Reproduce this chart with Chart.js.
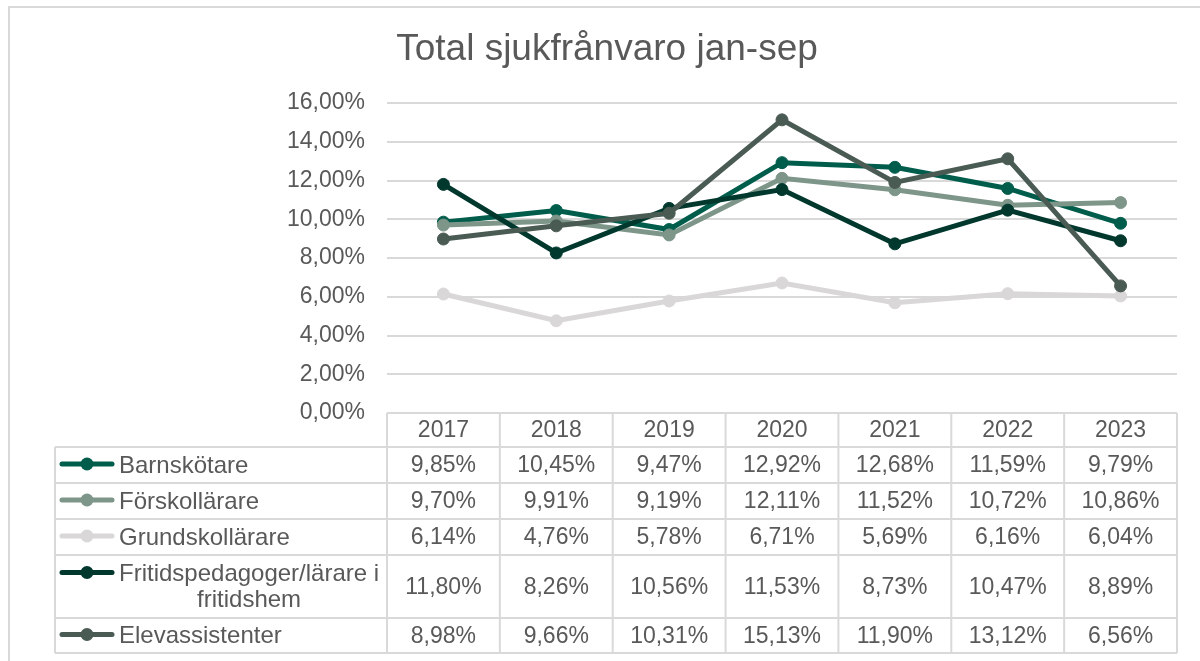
<!DOCTYPE html>
<html>
<head>
<meta charset="utf-8">
<title>Total sjukfrånvaro jan-sep</title>
<script src="https://cdn.jsdelivr.net/npm/chart.js@4.4.0/dist/chart.umd.min.js"></script>
<style>
  html, body { margin: 0; padding: 0; background: #fff; }
  canvas { display: block; }
</style>
</head>
<body>
<canvas id="chart" width="1200" height="661"></canvas>
<script>
// data (per cent)
const years = ['2017', '2018', '2019', '2020', '2021', '2022', '2023']
const barnskotare = [9.85, 10.45, 9.47, 12.92, 12.68, 11.59, 9.79]
const forskollarare = [9.70, 9.91, 9.19, 12.11, 11.52, 10.72, 10.86]
const grundskollarare = [6.14, 4.76, 5.78, 6.71, 5.69, 6.16, 6.04]
const fritidspedagoger = [11.80, 8.26, 10.56, 11.53, 8.73, 10.47, 8.89]
const elevassistenter = [8.98, 9.66, 10.31, 15.13, 11.90, 13.12, 6.56]

const seriesNames = ['Barnskötare', 'Förskollärare', 'Grundskollärare', 'Fritidspedagoger/lärare i fritidshem', 'Elevassistenter']
const seriesLabelLines = [['Barnskötare'], ['Förskollärare'], ['Grundskollärare'], ['Fritidspedagoger/lärare i', 'fritidshem'], ['Elevassistenter']]
const seriesValues = [barnskotare, forskollarare, grundskollarare, fritidspedagoger, elevassistenter]
const seriesColors = ['#005c4b', '#7d9689', '#d9d7d7', '#00382e', '#4a5b53']

const chartTitle = 'Total sjukfrånvaro jan-sep'
const yMin = 0
const yMax = 16
const yStep = 2

const FONT = '"Liberation Sans", Arial, sans-serif'
const TEXT = '#595959'
const GRID = '#d9d9d9'

const fmt = v => v.toFixed(2).replace('.', ',') + '%'

// table layout (pixels)
const tableLeft = 55
const headerBottom = 447
const rowBottoms = [483, 519, 555, 618, 653]

const tablePlugin = {
  id: 'dataTable',
  beforeDraw(chart) {
    const ctx = chart.ctx
    ctx.save()
    ctx.strokeStyle = GRID
    ctx.lineWidth = 2
    ctx.strokeRect(9, 7, 1220, 680)
    // title
    ctx.fillStyle = TEXT
    ctx.font = '37px ' + FONT
    ctx.textAlign = 'center'
    ctx.textBaseline = 'middle'
    ctx.fillText(chartTitle, 607, 50)
    ctx.restore()
  },
  afterDraw(chart) {
    const ctx = chart.ctx
    const area = chart.chartArea
    const xs = chart.scales.x
    const colW = area.width / years.length
    const top = area.bottom
    const bottom = rowBottoms[rowBottoms.length - 1]

    ctx.save()
    ctx.strokeStyle = GRID
    ctx.lineWidth = 2
    ctx.beginPath()
    ctx.moveTo(area.left, top); ctx.lineTo(area.right, top)
    ctx.moveTo(tableLeft, headerBottom); ctx.lineTo(area.right, headerBottom)
    rowBottoms.forEach(y => { ctx.moveTo(tableLeft, y); ctx.lineTo(area.right, y) })
    for (let i = 0; i <= years.length; i++) {
      const x = area.left + i * colW
      ctx.moveTo(x, top); ctx.lineTo(x, bottom)
    }
    ctx.moveTo(tableLeft, headerBottom); ctx.lineTo(tableLeft, bottom)
    ctx.stroke()

    ctx.fillStyle = TEXT
    ctx.font = '23px ' + FONT
    ctx.textAlign = 'center'
    ctx.textBaseline = 'middle'
    years.forEach((yr, i) => {
      ctx.fillText(yr, xs.getPixelForValue(i), (top + headerBottom) / 2 + 1)
    })

    seriesValues.forEach((vals, r) => {
      const rTop = r === 0 ? headerBottom : rowBottoms[r - 1]
      const cy = (rTop + rowBottoms[r]) / 2 + 1
      ctx.fillStyle = TEXT
      ctx.font = '23px ' + FONT
      ctx.textAlign = 'center'
      vals.forEach((v, i) => ctx.fillText(fmt(v), xs.getPixelForValue(i), cy))

      // legend key
      const lines = seriesLabelLines[r]
      const lineH = 26
      const firstY = cy - (lines.length - 1) * lineH / 2
      ctx.strokeStyle = seriesColors[r]
      ctx.lineWidth = 5
      ctx.lineCap = 'round'
      ctx.beginPath()
      ctx.moveTo(62, firstY - 2); ctx.lineTo(112, firstY - 2)
      ctx.stroke()
      ctx.fillStyle = seriesColors[r]
      ctx.beginPath()
      ctx.arc(87, firstY - 2, 6.5, 0, Math.PI * 2)
      ctx.fill()

      ctx.fillStyle = TEXT
      ctx.font = '24px ' + FONT
      if (lines.length === 1) {
        ctx.textAlign = 'left'
        ctx.fillText(lines[0], 119, cy)
      } else {
        ctx.textAlign = 'left'
        ctx.fillText(lines[0], 119, firstY)
        const w0 = ctx.measureText(lines[0]).width
        ctx.textAlign = 'center'
        lines.slice(1).forEach((l, k) => ctx.fillText(l, 119 + w0 / 2, firstY + (k + 1) * lineH))
      }
    })
    ctx.restore()
  }
}

new Chart(document.getElementById('chart'), {
  type: 'line',
  data: {
    labels: years,
    datasets: seriesValues.map((vals, i) => ({
      label: seriesNames[i],
      data: vals,
      borderColor: seriesColors[i],
      backgroundColor: seriesColors[i],
      pointBackgroundColor: seriesColors[i],
      pointBorderColor: seriesColors[i],
      borderWidth: 5,
      pointRadius: 6,
      pointBorderWidth: 1,
      tension: 0,
      order: seriesValues.length - i // last series on top, like the original
    }))
  },
  options: {
    responsive: false,
    animation: false,
    layout: { padding: { left: 10, right: 23, top: 103, bottom: 248 } },
    plugins: {
      legend: { display: false },
      title: { display: false },
      tooltip: { enabled: false }
    },
    scales: {
      x: { display: false, offset: true },
      y: {
        min: yMin,
        max: yMax,
        afterFit: s => { s.width = 377 },
        border: { display: false },
        grid: { color: GRID, lineWidth: 2, drawTicks: false },
        ticks: {
          stepSize: yStep,
          padding: 22,
          color: TEXT,
          font: { family: FONT, size: 23 },
          callback: v => fmt(v)
        }
      }
    }
  },
  plugins: [tablePlugin]
})
</script>
</body>
</html>
